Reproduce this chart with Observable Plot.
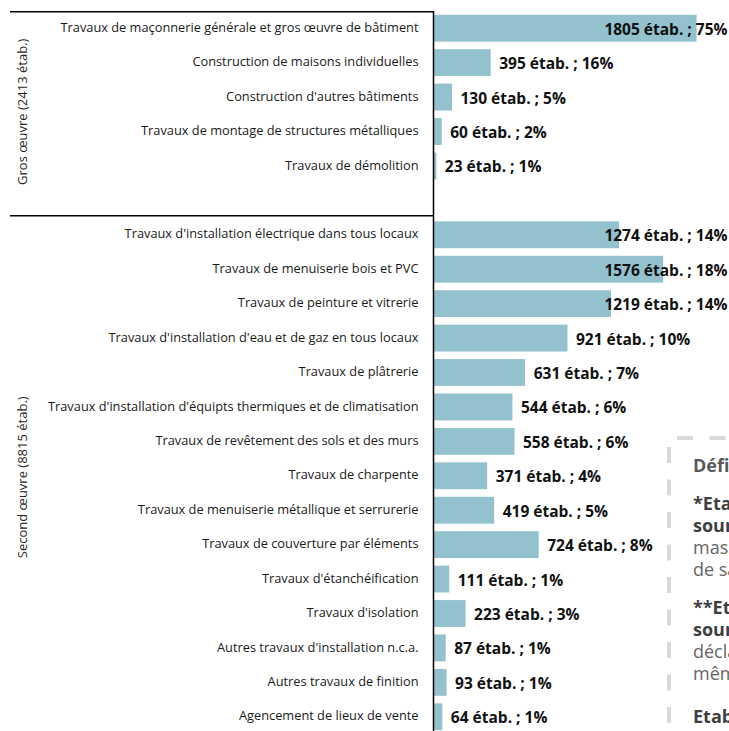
<!DOCTYPE html>
<html>
<head>
<meta charset="utf-8">
<script src="https://cdn.jsdelivr.net/npm/d3@7"></script>
<script src="https://cdn.jsdelivr.net/npm/@observablehq/plot@0.6"></script>
<style>
html, body { margin: 0; padding: 0; background: #fff; overflow: hidden; width: 729px; height: 731px; }
#chart { position: absolute; left: 0; top: 0; }
#note { position: absolute; left: 669px; top: 438px; width: 300px; height: 330px; }
#note svg { position: absolute; left: 0; top: 0; overflow: visible; }
#note .txt { position: absolute; left: 24px; top: 16px; font-family: "Open Sans", sans-serif; font-size: 18px; line-height: 22px; color: #666; white-space: nowrap; }
#note .h { font-weight: bold; color: #595959; margin-bottom: 16px; }
#note .p { margin-bottom: 16px; }
#note .p2 { margin-bottom: 21px; }
#note b { color: #3f3f3f; }
</style>
</head>
<body>
<div id="chart"></div>
<div id="note">
  <svg width="300" height="330">
    <line x1="0" y1="0" x2="300" y2="0" stroke="#d9d9d9" stroke-width="4" stroke-dasharray="16 16.5" stroke-dashoffset="24.5"></line>
    <line x1="0" y1="0" x2="0" y2="330" stroke="#d9d9d9" stroke-width="4" stroke-dasharray="16 16.5" stroke-dashoffset="23.5"></line>
  </svg>
  <div class="txt">
    <div class="h">Définitions</div>
    <div class="p"><b>*Etablissements employeurs</b><br><b>source Urssaf :</b><br>masse salariale non nulle<br>de salariés au 31 décembre</div>
    <div class="p p2"><b>**Etablissements sans salarié</b><br><b>source Insee :</b><br>déclarant une activité<br>même sans salarié</div>
    <div class="p"><b>Etablissements</b><br>Répertoire Sirene</div>
  </div>
</div>
<script>
// ---- Data ----
const grosCategories = [
  "Travaux de maçonnerie générale et gros œuvre de bâtiment",
  "Construction de maisons individuelles",
  "Construction d'autres bâtiments",
  "Travaux de montage de structures métalliques",
  "Travaux de démolition"
];
const grosValues = [1805, 395, 130, 60, 23];
const grosShares = [75, 16, 5, 2, 1];

const secondCategories = [
  "Travaux d'installation électrique dans tous locaux",
  "Travaux de menuiserie bois et PVC",
  "Travaux de peinture et vitrerie",
  "Travaux d'installation d'eau et de gaz en tous locaux",
  "Travaux de plâtrerie",
  "Travaux d'installation d'équipts thermiques et de climatisation",
  "Travaux de revêtement des sols et des murs",
  "Travaux de charpente",
  "Travaux de menuiserie métallique et serrurerie",
  "Travaux de couverture par éléments",
  "Travaux d'étanchéification",
  "Travaux d'isolation",
  "Autres travaux d'installation n.c.a.",
  "Autres travaux de finition",
  "Agencement de lieux de vente"
];
const secondValues = [1274, 1576, 1219, 921, 631, 544, 558, 371, 419, 724, 111, 223, 87, 93, 64];
const secondShares = [14, 18, 14, 10, 7, 6, 6, 4, 5, 8, 1, 3, 1, 1, 1];

const groupLabels = ["Gros œuvre (2413 étab.)", "Second œuvre (8815 étab.)"];
const spacer = " ";

// ---- Build ----
const rows = [
  ...grosCategories.map((c, i) => ({category: c, value: grosValues[i], share: grosShares[i]})),
  ...secondCategories.map((c, i) => ({category: c, value: secondValues[i], share: secondShares[i]}))
];
const domain = [...grosCategories, spacer, ...secondCategories];

const W = 729, H = 735, ML = 433, MR = 1, MT = 11, MB = 1;
const PI = 0.22, PO = 0.11;
const step = (H - MT - MB) / (domain.length - PI + 2 * PO);

const groups = [
  {label: groupLabels[0], mid: grosCategories[2]},
  {label: groupLabels[1], mid: secondCategories[7]}
];
const fmt = d => `${d.value} étab. ; ${d.share}%`;
const clampLimit = 1100;

const plot = Plot.plot({
  width: W, height: H,
  marginLeft: ML, marginRight: MR, marginTop: MT, marginBottom: MB,
  style: {fontFamily: "'Open Sans', sans-serif", fontSize: "12.8px", background: "transparent", overflow: "visible"},
  x: {domain: [0, 2020], axis: null},
  y: {domain, paddingInner: PI, paddingOuter: PO, round: false, axis: null},
  marks: [
    Plot.barX(rows, {x: "value", y: "category", fill: "#93c1ce"}),
    Plot.text(rows, {x: 0, y: "category", text: "category", textAnchor: "end", dx: -15, dy: -1, fontSize: 12.8, fill: "#1a1a1a"}),
    Plot.text(rows.filter(d => d.value < clampLimit), {x: "value", y: "category", text: fmt, textAnchor: "start", dx: 8, dy: 1, fontWeight: "bold", fontSize: 15.5, fill: "#111"}),
    Plot.text(rows.filter(d => d.value >= clampLimit), {y: "category", frameAnchor: "right", text: fmt, textAnchor: "end", dx: -1, dy: 1, fontWeight: "bold", fontSize: 15.5, fill: "#111"}),
    Plot.ruleX([0], {stroke: "#000", strokeWidth: 1.5}),
    Plot.text(groups.slice(0, 1), {y: "mid", text: "label", frameAnchor: "left", textAnchor: "middle", dx: -(ML - 22), dy: step / 2 - 3, rotate: -90, fontSize: 13, fill: "#262626"}),
    Plot.text(groups.slice(1), {y: "mid", text: "label", frameAnchor: "left", textAnchor: "middle", dx: -(ML - 22), dy: 1, rotate: -90, fontSize: 13, fill: "#262626"})
  ]
});

// structural lines in the left label area, positioned from the plot's y scale
const ys = plot.scale("y");
const topY = ys.range[0] + 0.75;
const sepY = ys.apply(spacer) + ys.bandwidth + 2;
const svg = d3.select(plot);
[topY, sepY].forEach(y => {
  svg.append("line").attr("x1", 10).attr("x2", ML).attr("y1", y).attr("y2", y)
    .attr("stroke", "#000").attr("stroke-width", 1.5);
});

document.getElementById("chart").append(plot);
</script>
</body>
</html>
